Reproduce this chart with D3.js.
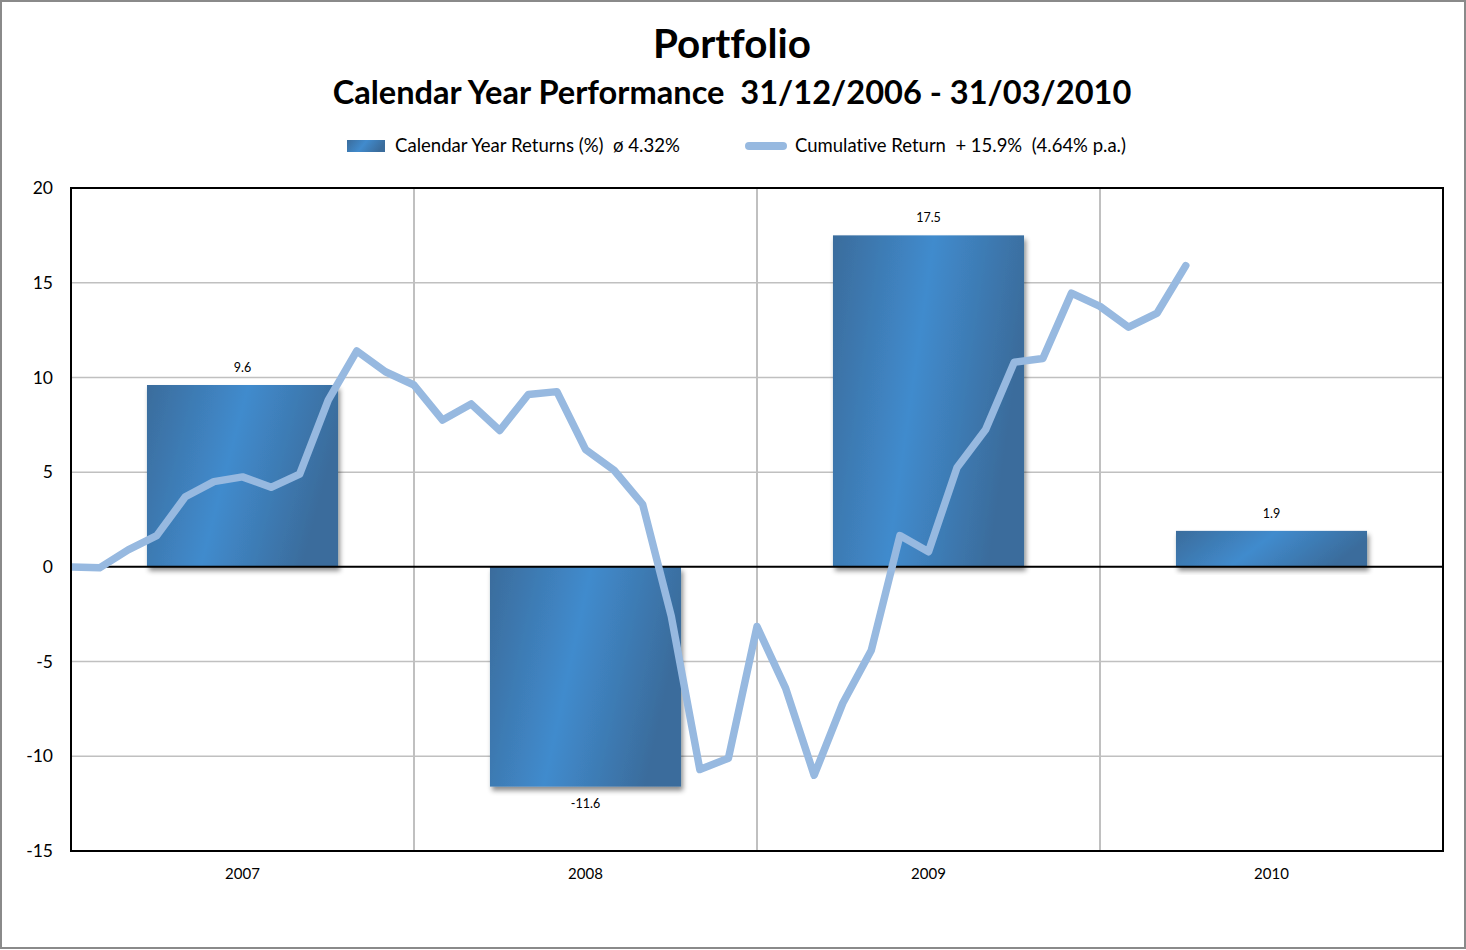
<!DOCTYPE html>
<html>
<head>
<meta charset="utf-8">
<script src="https://cdn.jsdelivr.net/npm/d3@7"></script>
<style>
  html, body { margin: 0; padding: 0; background: #fff; }
  svg { display: block; font-family: Lato, "Open Sans", sans-serif; font-variant-ligatures: none; }
</style>
</head>
<body>
<svg id="chart" width="1466" height="950"></svg>
<script>
// ---- data ----
const years = ["2007", "2008", "2009", "2010"];
const yearReturns = [9.6, -11.6, 17.5, 1.9];
// cumulative return, monthly from 31/12/2006 (index 0) to 31/03/2010 (index 39)
const cumulative = [
  0.0, -0.05, 0.9, 1.65, 3.7, 4.5, 4.75, 4.2, 4.9, 8.8, 11.4, 10.3,
  9.6, 7.75, 8.6, 7.2, 9.1, 9.25, 6.2, 5.1, 3.3, -2.6, -10.7, -10.1,
  -3.15, -6.4, -11.0, -7.2, -4.4, 1.65, 0.8, 5.25, 7.25, 10.8, 11.0, 14.45,
  13.75, 12.65, 13.4, 15.9
];
const yTicks = [-15, -10, -5, 0, 5, 10, 15, 20];
const titleText = "Portfolio";
const subtitleText = "Calendar Year Performance\u00a0\u00a031/12/2006 - 31/03/2010";
const legendBarText = "Calendar Year Returns (%)\u00a0\u00a0ø 4.32%";
const legendLineText = "Cumulative Return\u00a0\u00a0+ 15.9%\u00a0\u00a0(4.64% p.a.)";

// ---- layout ----
const W = 1466, H = 950;
const plot = { left: 71, right: 1443, top: 188, bottom: 851 };
const svg = d3.select("#chart");

const defs = svg.append("defs");
const grad = defs.append("linearGradient").attr("id", "barGrad")
  .attr("x1", "0").attr("y1", "0").attr("x2", "1").attr("y2", "0.25");
grad.append("stop").attr("offset", "0").attr("stop-color", "#3a6c9c");
grad.append("stop").attr("offset", "0.5").attr("stop-color", "#418bcd");
grad.append("stop").attr("offset", "1").attr("stop-color", "#3a6c9c");
const f = defs.append("filter").attr("id", "shadow")
  .attr("x", "-10%").attr("y", "-10%").attr("width", "125%").attr("height", "130%");
f.append("feDropShadow").attr("dx", 2).attr("dy", 4).attr("stdDeviation", 2.5)
  .attr("flood-color", "#000").attr("flood-opacity", 0.45);

// background + outer border
svg.append("rect").attr("x", 1).attr("y", 1).attr("width", W - 2).attr("height", H - 3)
  .attr("fill", "#fff").attr("stroke", "#8a8a8a").attr("stroke-width", 2);

// scales
const y = d3.scaleLinear().domain([-15, 20]).range([plot.bottom, plot.top]);
const x = d3.scaleBand().domain(years).range([plot.left, plot.right]).paddingInner(0).paddingOuter(0);
const xm = d3.scaleLinear().domain([0, 48]).range([plot.left, plot.right]);
const barW = x.bandwidth() * 0.557;

// horizontal gridlines
svg.append("g").selectAll("line").data(yTicks.filter(t => t !== 0 && t !== -15 && t !== 20))
  .join("line")
  .attr("x1", plot.left).attr("x2", plot.right)
  .attr("y1", d => y(d)).attr("y2", d => y(d))
  .attr("stroke", "#c0c0c0").attr("stroke-width", 1.5);
// vertical gridlines at category boundaries
svg.append("g").selectAll("line").data(years.slice(1))
  .join("line")
  .attr("x1", d => x(d)).attr("x2", d => x(d))
  .attr("y1", plot.top).attr("y2", plot.bottom)
  .attr("stroke", "#c0c0c0").attr("stroke-width", 2);

// bars
svg.append("g").selectAll("rect").data(years)
  .join("rect")
  .attr("x", d => x(d) + (x.bandwidth() - barW) / 2)
  .attr("width", barW)
  .attr("y", (d, i) => y(Math.max(0, yearReturns[i])))
  .attr("height", (d, i) => Math.abs(y(yearReturns[i]) - y(0)))
  .attr("fill", "url(#barGrad)")
  .attr("filter", "url(#shadow)");

// zero line
svg.append("line").attr("x1", plot.left).attr("x2", plot.right)
  .attr("y1", y(0)).attr("y2", y(0)).attr("stroke", "#000").attr("stroke-width", 2);

// plot frame
svg.append("rect").attr("x", plot.left).attr("y", plot.top)
  .attr("width", plot.right - plot.left).attr("height", plot.bottom - plot.top)
  .attr("fill", "none").attr("stroke", "#000").attr("stroke-width", 2);

// data labels
svg.append("g").selectAll("text").data(years)
  .join("text")
  .attr("x", d => x(d) + x.bandwidth() / 2)
  .attr("y", (d, i) => yearReturns[i] >= 0 ? y(yearReturns[i]) - 13 : y(yearReturns[i]) + 21)
  .attr("text-anchor", "middle")
  .attr("font-size", 12.5).attr("fill", "#000")
  .text((d, i) => yearReturns[i].toFixed(1));

// cumulative line
const clipId = "plotClip";
defs.append("clipPath").attr("id", clipId).append("rect")
  .attr("x", plot.left + 1).attr("y", plot.top).attr("width", plot.right - plot.left).attr("height", plot.bottom - plot.top);
const line = d3.line().x((d, i) => xm(i)).y(d => y(d));
svg.append("path").datum(cumulative)
  .attr("d", line)
  .attr("fill", "none").attr("stroke", "#97b9e0").attr("stroke-width", 7.5)
  .attr("stroke-linejoin", "round").attr("stroke-linecap", "round")
  .attr("clip-path", `url(#${clipId})`);

// y axis labels
const yAxis = d3.axisLeft(y).tickValues(yTicks).tickSize(0).tickPadding(0).tickFormat(d => String(d));
const gy = svg.append("g").attr("transform", `translate(${53},0)`).call(yAxis);
gy.select(".domain").remove();
gy.selectAll("text").attr("font-size", 17.5).attr("font-family", "Lato, sans-serif").attr("fill", "#000");

// x axis labels
const xAxis = d3.axisBottom(x).tickSize(0).tickPadding(0);
const gx = svg.append("g").attr("transform", `translate(0,${868})`).call(xAxis);
gx.select(".domain").remove();
gx.selectAll("text").attr("font-size", 15).attr("font-family", "Lato, sans-serif").attr("fill", "#000");

// titles
function fitText(sel, target) {
  const fs = parseFloat(sel.attr("font-size"));
  const w = sel.node().getComputedTextLength();
  sel.attr("font-size", fs * target / w);
}
const t1 = svg.append("text").attr("x", 732).attr("y", 58).attr("text-anchor", "middle")
  .attr("font-weight", "bold").attr("font-size", 32).attr("fill", "#000").text(titleText);
fitText(t1, 158);
const t2 = svg.append("text").attr("x", 732).attr("y", 104).attr("text-anchor", "middle")
  .attr("font-weight", "bold").attr("font-size", 30).attr("fill", "#000").text(subtitleText);
fitText(t2, 799);

// legend
svg.append("rect").attr("x", 347).attr("y", 140).attr("width", 38).attr("height", 12)
  .attr("fill", "url(#barGrad)");
const l1 = svg.append("text").attr("x", 395).attr("y", 152).attr("font-size", 17).attr("fill", "#000").text(legendBarText);
fitText(l1, 285);
svg.append("line").attr("x1", 749).attr("x2", 783).attr("y1", 146).attr("y2", 146)
  .attr("stroke", "#97b9e0").attr("stroke-width", 8).attr("stroke-linecap", "round");
const l2 = svg.append("text").attr("x", 795).attr("y", 152).attr("font-size", 17).attr("fill", "#000").text(legendLineText);
fitText(l2, 331);
</script>
</body>
</html>
